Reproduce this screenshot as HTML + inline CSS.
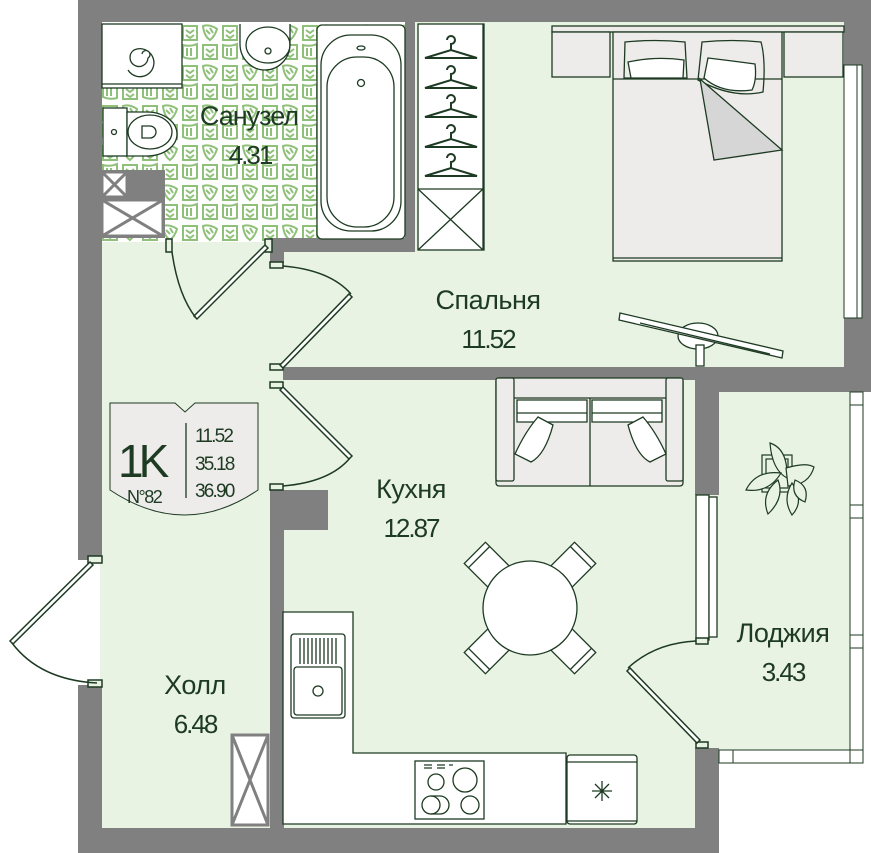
<!DOCTYPE html>
<html><head><meta charset="utf-8"><style>
html,body{margin:0;padding:0;background:#fff;}
svg{display:block;}
text{font-family:"Liberation Sans",sans-serif;fill:#1d3a22;}
</style></head><body>
<svg width="871" height="853" viewBox="0 0 871 853" xmlns="http://www.w3.org/2000/svg">
<defs>
<pattern id="tile" x="100" y="22" width="40" height="40" patternUnits="userSpaceOnUse">
<rect width="40" height="40" fill="#fff"/>
<path d="M3 4 h14 v14 h-14z M6 8 l4 3 l4-3 M6 13 l4 3 l4-3" fill="none" stroke="#8fc07a" stroke-width="2"/>
<path d="M23 4 q7 -2 14 3 q-2 7 -7 11 q-6 -4 -7 -14z M26 8 l4 4 M30 6 l3 5" fill="none" stroke="#8fc07a" stroke-width="2"/>
<path d="M3 23 q7 2 14 -1 v14 q-7 2 -14 -1z M7 26 v8 M11 26 v8" fill="none" stroke="#8fc07a" stroke-width="2"/>
<path d="M23 23 h14 v14 h-14z M26 27 l4 3 l4-3 M26 32 l4 3 l4-3" fill="none" stroke="#8fc07a" stroke-width="2"/>
</pattern>
</defs>
<g stroke="none">
<rect x="100" y="22" width="745" height="370" fill="#e9f3e3"/>
<rect x="100" y="380" width="619" height="452" fill="#e9f3e3"/>
<rect x="100" y="22" width="310" height="220" fill="url(#tile)"/>
<rect x="719" y="392" width="132" height="360" fill="#e9f3e3"/>
<rect x="78" y="0" width="793" height="22" fill="#808080"/>
<rect x="78" y="0" width="24" height="560" fill="#808080"/>
<rect x="78" y="685" width="24" height="168" fill="#808080"/>
<rect x="78" y="828" width="640" height="25" fill="#808080"/>
<rect x="844" y="0" width="27" height="392" fill="#808080"/>
<rect x="695" y="367" width="176" height="25" fill="#808080"/>
<rect x="695" y="380" width="24" height="115" fill="#808080"/>
<rect x="695" y="748" width="24" height="105" fill="#808080"/>
<rect x="283" y="367" width="412" height="13" fill="#808080"/>
<rect x="270" y="490" width="58" height="40" fill="#808080"/>
<rect x="270" y="490" width="14" height="340" fill="#808080"/>
<rect x="270" y="238" width="145" height="14" fill="#808080"/>
<rect x="270" y="238" width="14" height="25" fill="#808080"/>
<rect x="405" y="22" width="10" height="230" fill="#808080"/>
<rect x="100" y="170" width="65" height="68" fill="#808080"/>
</g>
<g fill="none" stroke="#1d3a22" stroke-width="1.3">
<rect x="102" y="172" width="25" height="25" fill="#fff" stroke="#808080" stroke-width="3"/>
<path d="M102 172 L127 197 M127 172 L102 197" stroke="#808080" stroke-width="3"/>
<rect x="102" y="200" width="61" height="36" fill="#fff" stroke="#808080" stroke-width="3"/>
<path d="M102 200 L163 236 M163 200 L102 236" stroke="#808080" stroke-width="3"/>
<rect x="102" y="24" width="80" height="64" fill="#fff"/>
<line x1="102" y1="84" x2="182" y2="84"/>
<path d="M142 54 a4 4 0 1 1 6 4 a9 9 0 1 1 -14 -8 a14 14 0 1 1 -6 20"/>
<path d="M240 24 v20 a25 26 0 0 0 50 0 v-20" fill="#fff"/>
<ellipse cx="268" cy="45" rx="22" ry="18"/>
<circle cx="268" cy="51" r="3"/>
<rect x="103" y="108" width="24" height="48" fill="#fff"/>
<path d="M127 112 h20 a30 22 0 0 1 0 44 h-20z" fill="#fff"/>
<ellipse cx="150" cy="132" rx="22" ry="17"/>
<path d="M142 126 h8 a6 6 0 0 1 0 12 h-8z"/>
<circle cx="114" cy="132" r="2.5"/>
<rect x="317" y="25" width="88" height="214" rx="5" fill="#fff"/>
<rect x="321" y="35" width="80" height="196" rx="30"/>
<rect x="327" y="57" width="67" height="170" rx="30"/>
<ellipse cx="361" cy="48" rx="4" ry="2"/>
<circle cx="361" cy="83" r="3.5"/>
<rect x="418" y="24" width="66" height="226" fill="#fff"/>
<line x1="483" y1="24" x2="483" y2="250"/>
<line x1="418" y1="189" x2="483" y2="189"/>
<path d="M418 189 L483 250 M483 189 L418 250"/>
<g stroke-width="2">
<path d="M425 58 L451 50 L477 58 Z M451 50 v-6 a4 4 0 1 0 -4 -4"/>
<path d="M425 88 L451 80 L477 88 Z M451 80 v-6 a4 4 0 1 0 -4 -4"/>
<path d="M425 117 L451 109 L477 117 Z M451 109 v-6 a4 4 0 1 0 -4 -4"/>
<path d="M425 147 L451 139 L477 147 Z M451 139 v-6 a4 4 0 1 0 -4 -4"/>
<path d="M425 176 L451 168 L477 176 Z M451 168 v-6 a4 4 0 1 0 -4 -4"/>
</g>
<rect x="552" y="26" width="292" height="6" fill="#eeecea"/>
<rect x="552" y="32" width="58" height="45" fill="#eeecea"/>
<rect x="784" y="32" width="59" height="45" fill="#eeecea"/>
<rect x="613" y="32" width="169" height="229" fill="#eeecea"/>
<line x1="613" y1="258" x2="782" y2="258"/>
<line x1="613" y1="79" x2="782" y2="79"/>
<path d="M625 42 q30 -3 60 0 l2 36 h-63z"/>
<path d="M702 42 q30 -3 59 0 q5 18 2 50 q-30 7 -65 -12z"/>
<path d="M628 62 q28 -6 56 -2 l-1 18 h-52z" fill="#fff"/>
<path d="M708 58 q25 3 47 6 q2 16 -3 26 q-30 4 -48 -12z" fill="#fff"/>
<path d="M700 79 L782 150 L714 160 Z" fill="#d6d6d6"/>
<rect x="844" y="65" width="18" height="253" fill="#fff" stroke-width="1"/>
<line x1="857" y1="65" x2="857" y2="318" stroke-width="1"/>
<ellipse cx="698" cy="336" rx="20" ry="13" fill="#fff"/>
<rect x="696" y="345" width="8" height="21" fill="#fff"/>
<path d="M620 313 L783 351 L782 358 L619 320 Z" fill="#fff"/>
<line x1="640" y1="323" x2="770" y2="354"/>
<rect x="496" y="378" width="187" height="108" rx="3" fill="#eeecea"/>
<rect x="496" y="378" width="18" height="103" rx="2" fill="#eeecea"/>
<rect x="666" y="378" width="17" height="103" rx="2" fill="#eeecea"/>
<line x1="514" y1="398" x2="666" y2="398"/>
<line x1="590" y1="398" x2="590" y2="486"/>
<path d="M517 400 h70 v22 h-70z M592 400 h70 v22 h-70z" fill="#fff"/>
<path d="M517 413 h70 M592 413 h70"/>
<path d="M538 417 l15 8 q-8 30 -22 37 q-8-4 -16 -8 q10 -22 23 -37z" fill="#fff"/>
<path d="M643 417 l-15 8 q8 30 22 37 q8-4 16 -8 q-10 -22 -23 -37z" fill="#fff"/>
<g fill="#fff">
<g transform="translate(530,608) rotate(-45)"><rect x="-15" y="-78" width="30" height="40"/><line x1="-15" y1="-72" x2="15" y2="-72"/></g>
<g transform="translate(530,608) rotate(45)"><rect x="-15" y="-78" width="30" height="40"/><line x1="-15" y1="-72" x2="15" y2="-72"/></g>
<g transform="translate(530,608) rotate(135)"><rect x="-15" y="-78" width="30" height="40"/><line x1="-15" y1="-72" x2="15" y2="-72"/></g>
<g transform="translate(530,608) rotate(-135)"><rect x="-15" y="-78" width="30" height="40"/><line x1="-15" y1="-72" x2="15" y2="-72"/></g>
<circle cx="530" cy="608" r="47"/>
</g>
<path d="M283 612 H353 V753 H566 V824 H283 Z" fill="#fff"/>
<rect x="291" y="634" width="54" height="84" rx="3"/>
<rect x="294" y="667" width="48" height="48" rx="3"/>
<circle cx="318" cy="691" r="5"/>
<path d="M300 638 v26 M304 638 v26 M308 638 v26 M312 638 v26 M316 638 v26 M320 638 v26 M324 638 v26 M328 638 v26 M332 638 v26 M336 638 v26"/>
<rect x="415" y="761" width="69" height="58"/>
<circle cx="436" cy="782" r="8"/><circle cx="465" cy="780" r="12"/>
<circle cx="431" cy="805" r="9"/><path d="M431 796 h9 a9 9 0 0 1 0 18 h-9"/><circle cx="470" cy="805" r="9"/>
<path d="M424 765 h8 M437 765 h8 M449 765 h4 M424 768 h8 M437 768 h8"/>
<rect x="567" y="755" width="70" height="69" rx="3" fill="#fff"/>
<line x1="567" y1="762" x2="637" y2="762"/>
<line x1="567" y1="821" x2="637" y2="821"/>
<path d="M592 791 h20 M602 781 v20 M595 784 l14 14 M609 784 l-14 14"/>
<rect x="696" y="495" width="13" height="145" fill="#fff"/>
<rect x="709" y="497" width="8" height="140" fill="#fff"/>
<rect x="850" y="392" width="13" height="360" fill="#fff" stroke-width="1"/>
<path d="M850 405 h13 M850 505 h13 M850 518 h13 M850 635 h13 M850 648 h13" stroke-width="1"/>
<rect x="719" y="750" width="144" height="13" fill="#fff" stroke-width="1"/>
<path d="M733 750 v13 M850 750 v13" stroke-width="1"/>
<g stroke-width="1.2" fill="#e9f3e3">
<rect x="762" y="455" width="30" height="37"/>
<rect x="766" y="459" width="22" height="29"/>
<path d="M770 443 q18 6 17 35 q-15 -8 -17 -35z"/>
<path d="M746 490 q10 -20 35 -17 q-12 20 -35 17z"/>
<path d="M786 468 q20 -6 28 -1 q-5 18 -26 19z"/>
<path d="M768 514 q-8 -20 10 -34 q7 18 -10 34z"/>
<path d="M792 515 q-10 -16 0 -32 q13 18 0 32z"/>
<path d="M805 502 q-15 -6 -10 -22 q15 6 10 22z"/>
</g>
<g stroke-width="1.5">
<rect x="166" y="239" width="6" height="13" fill="#e9f3e3"/>
<rect x="265" y="239" width="7" height="13" fill="#e9f3e3"/>
<path d="M268 248 L197 319 L194 316 L265 245 Z" fill="#fff"/>
<path d="M172 252 Q178 295 196 318"/>
<rect x="270" y="262" width="13" height="6" fill="#e9f3e3"/>
<rect x="270" y="364" width="13" height="6" fill="#e9f3e3"/>
<path d="M280 365 L349 294 L352 297 L283 368 Z" fill="#fff"/>
<path d="M283 266 Q330 270 351 294"/>
<rect x="270" y="382" width="13" height="6" fill="#e9f3e3"/>
<rect x="270" y="484" width="13" height="6" fill="#e9f3e3"/>
<path d="M283 387 L352 456 L349 459 L280 390 Z" fill="#fff"/>
<path d="M283 486 Q330 482 350 458"/>
<rect x="88" y="556" width="14" height="7" fill="#e9f3e3"/>
<rect x="88" y="680" width="14" height="7" fill="#e9f3e3"/>
<path d="M90 562 L10 641 L13 644 L93 565 Z" fill="#fff"/>
<path d="M97 683 Q40 680 12 643"/>
<rect x="696" y="638" width="12" height="6" fill="#e9f3e3"/>
<rect x="696" y="742" width="12" height="6" fill="#e9f3e3"/>
<path d="M700 740 L630 668 L627 671 L697 743 Z" fill="#fff"/>
<path d="M696 641 Q655 643 628 668"/>
</g>
<path d="M110 403 H175 L185 412 L195 403 H258 V490 Q185 540 110 490 Z" fill="#eeecea" stroke-width="1"/>
<line x1="186" y1="423" x2="186" y2="498"/>
</g>
<g>
<text x="118" y="477" font-size="46" letter-spacing="-5">1K</text>
<text x="127" y="503" font-size="18" letter-spacing="-1.5">N°82</text>
<text x="195" y="442" font-size="19" letter-spacing="-1.8">11.52</text>
<text x="195" y="470" font-size="19" letter-spacing="-1.8">35.18</text>
<text x="195" y="497" font-size="19" letter-spacing="-1.8">36.90</text>
<text x="249" y="125" font-size="27" text-anchor="middle" letter-spacing="-1">Санузел</text>
<text x="250" y="164" font-size="26" text-anchor="middle" letter-spacing="-2">4.31</text>
<text x="488" y="309" font-size="27" text-anchor="middle" letter-spacing="-0.5">Спальня</text>
<text x="488" y="348" font-size="26" text-anchor="middle" letter-spacing="-2">11.52</text>
<text x="411" y="498" font-size="27" text-anchor="middle" letter-spacing="-0.5">Кухня</text>
<text x="411" y="537" font-size="26" text-anchor="middle" letter-spacing="-2">12.87</text>
<text x="783" y="642" font-size="27" text-anchor="middle" letter-spacing="-0.5">Лоджия</text>
<text x="783" y="681" font-size="26" text-anchor="middle" letter-spacing="-2">3.43</text>
<text x="195" y="694" font-size="27" text-anchor="middle" letter-spacing="-0.5">Холл</text>
<text x="195" y="733" font-size="26" text-anchor="middle" letter-spacing="-2">6.48</text>
</g>
<g fill="#fff" stroke="#808080" stroke-width="3">
<rect x="232" y="735" width="36" height="90"/>
<path d="M232 735 L268 825 M268 735 L232 825" fill="none"/>
</g>
</svg>
</body></html>
